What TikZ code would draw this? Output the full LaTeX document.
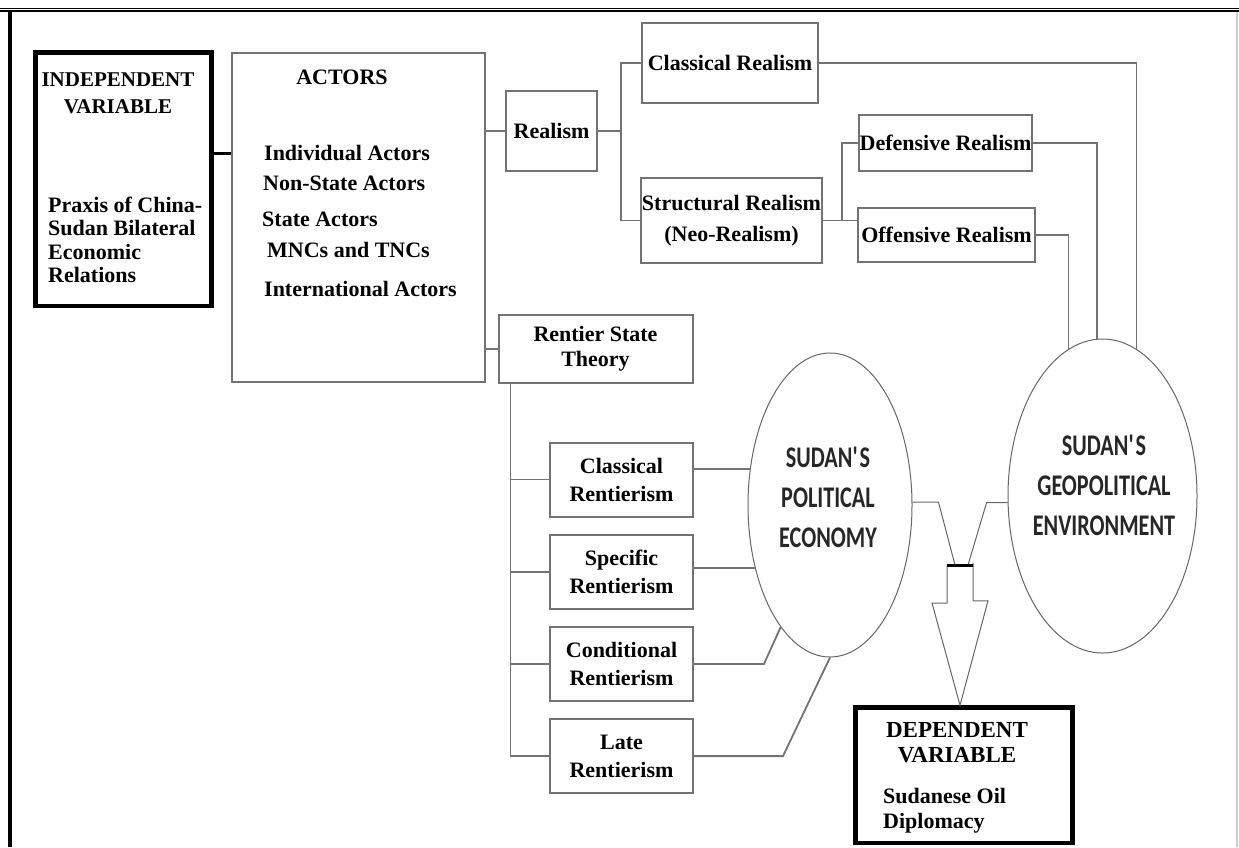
\documentclass[tikz,border=0pt]{standalone}
\usepackage{fontspec}
\setmainfont{Liberation Serif}
\newfontfamily\bubblefont[FakeStretch=0.74]{Carlito}
\usepackage{tikz}
\usetikzlibrary{arrows,shapes,backgrounds,fit,positioning}

\begin{document}
\begin{tikzpicture}[x=1pt,y=-1pt,node distance=92.2pt]
      \tikzstyle{frame}=[draw=black, line width=1.3pt]
      \tikzstyle{varbox}=[draw=black, line width=4.5pt, inner sep=0pt]
      \tikzstyle{box}=[draw=black!55, line width=2pt, inner sep=0pt, align=center, font=\fontsize{22}{25}\selectfont\bfseries]
      \tikzstyle{rentbox}=[box, minimum width=143pt, minimum height=74pt, font=\fontsize{22}{28}\selectfont\bfseries]
      \tikzstyle{boxtext}=[inner sep=0pt, font=\fontsize{22}{25}\selectfont\bfseries]
      \tikzstyle{bubble}=[ellipse, draw=black!60, line width=1pt, inner sep=0pt]
      \tikzstyle{bubbletext}=[inner sep=0pt, align=center, text=black!85, font=\fontsize{30}{40}\selectfont\bubblefont\bfseries]
      \tikzstyle{link}=[draw=black!55, line width=1.8pt]

      \useasboundingbox (0,0) rectangle (1239,847);

      % page frame
      \draw [frame] (0,8.7) -- (1239,8.7);
      \draw [frame] (0,11) -- (1239,11);
      \draw [line width=4pt] (9.5,11) -- (9.5,847);
      \draw [draw=black!20, line width=2pt] (1237,12) -- (1237,847);

      % independent variable
      \node [varbox, minimum width=176pt, minimum height=253.5pt] (indep) at (123.5,179) {};
      \node [boxtext, align=center, font=\fontsize{21}{27}\selectfont\bfseries] (indeptitle) at (118,93.5) {INDEPENDENT\\VARIABLE};
      \node [boxtext, align=left, anchor=west, font=\fontsize{22}{23.3}\selectfont\bfseries] (indeptext) at (48,240) {Praxis of China-\\Sudan Bilateral\\Economic\\Relations};

      % actors
      \node [box, minimum width=253pt, minimum height=329pt] (actors) at (358.5,217.5) {};
      \node [boxtext] (actorstitle) at (342,77) {ACTORS};
      \node [boxtext, anchor=west] (individual) at (264,153) {Individual Actors};
      \node [boxtext, anchor=west] (nonstate) at (263,183) {Non-State Actors};
      \node [boxtext, anchor=west] (state) at (262,219) {State Actors};
      \node [boxtext, anchor=west] (mncs) at (267,250) {MNCs and TNCs};
      \node [boxtext, anchor=west] (international) at (264,289) {International Actors};

      \draw [line width=3pt] (individual.west -| indep.east) -- (individual.west -| actors.west);

      % realism branch
      \node [box, minimum width=91pt, minimum height=80pt] (realism) at (551.5,131) {Realism};
      \node [box, minimum width=176pt, minimum height=80pt] (classical) at (730,63) {Classical Realism};
      \node [box, minimum width=181pt, minimum height=85pt, font=\fontsize{22}{31}\selectfont\bfseries] (structural) at (731.5,220.5) {Structural Realism\\(Neo-Realism)};
      \node [box, minimum width=173pt, minimum height=56pt] (defensive) at (945.5,143) {Defensive Realism};
      \node [box, minimum width=177pt, minimum height=54pt] (offensive) at (946.5,235) {Offensive Realism};

      \draw [link] (realism.west) -- (realism.west -| actors.east);
      \draw [link] (realism.east) -- ++(23,0) coordinate (realfork);
      \draw [link] (classical.west) -| (realfork) |- (structural.west);
      \coordinate (neofork) at ([xshift=19pt]structural.east);
      \draw [link] (structural.east) -- (structural.east -| offensive.west);
      \draw [link] (defensive.west) -| (neofork);

      % rentier branch
      \node [box, minimum width=194pt, minimum height=68pt] (rentier) at (595.5,349) {Rentier State\\Theory};
      \node [rentbox] (crent) at (621.5,479.5) {Classical\\Rentierism};
      \node [rentbox] (srent) [below of=crent] {Specific\\Rentierism};
      \node [rentbox] (cdrent) [below of=srent] {Conditional\\Rentierism};
      \node [rentbox] (lrent) [below of=cdrent] {Late\\Rentierism};

      \draw [link] (rentier.west) -- (rentier.west -| actors.east);
      \coordinate (trunk) at ([xshift=13pt]rentier.south west);
      \draw [link] (trunk) |- (lrent.west);
      \draw [link] (crent.west) -- (crent.west -| trunk);
      \draw [link] (srent.west) -- (srent.west -| trunk);
      \draw [link] (cdrent.west) -- (cdrent.west -| trunk);

      % the two environments
      \node [bubble, minimum width=164pt, minimum height=304pt] (pe) at (830,505) {};
      \node [bubbletext] (petext) at (828,497) {SUDAN\textquotesingle S\\POLITICAL\\ECONOMY};
      \node [bubble, minimum width=189pt, minimum height=314pt] (geo) at (1102.5,496) {};
      \node [bubbletext] (geotext) at (1104,485) {SUDAN\textquotesingle S\\GEOPOLITICAL\\ENVIRONMENT};

      \draw [link] (pe.156) -- (pe.156 -| crent.east);
      \draw [link] (pe.220) -- (pe.220 -| srent.east);
      \draw [link] (cdrent.east) -- ++(70,0) -- (pe.248);
      \draw [link] (lrent.east) -- ++(89,0) -- (pe.south);

      \draw [link] (classical.east) -| (geo.77);
      \draw [link] (defensive.east) -| (geo.92);
      \draw [link] (offensive.east) -| (geo.103);

      % dependent variable
      \node [varbox, minimum width=217pt, minimum height=135.5pt] (dep) at (964,775.25) {};
      \node [boxtext, align=center, font=\fontsize{23}{25}\selectfont\bfseries] (deptitle) at (957,742.5) {DEPENDENT\\VARIABLE};
      \node [boxtext, align=left, anchor=west] (deptext) at (883,810.5) {Sudanese Oil\\Diplomacy};

      \coordinate (bar) at (960,565);
      \draw [draw=black!60, line width=1pt] (pe.2) -- ++(26,0) -- ([xshift=-5pt]bar);
      \draw [draw=black!60, line width=1pt] (geo.184) -- ++(-21,0) -- ([xshift=8pt]bar);
      \draw [draw=black!60, line width=1pt] (bar) ++(-13,0) -- ++(0,38) -- ++(-15,0) -- (bar |- dep.north) -- ++(28,-104.5) -- ++(-15,0) -- ++(0,-38);
      \draw [line width=3pt] ([xshift=-13pt]bar) -- ([xshift=13pt]bar);
\end{tikzpicture}
\end{document}
